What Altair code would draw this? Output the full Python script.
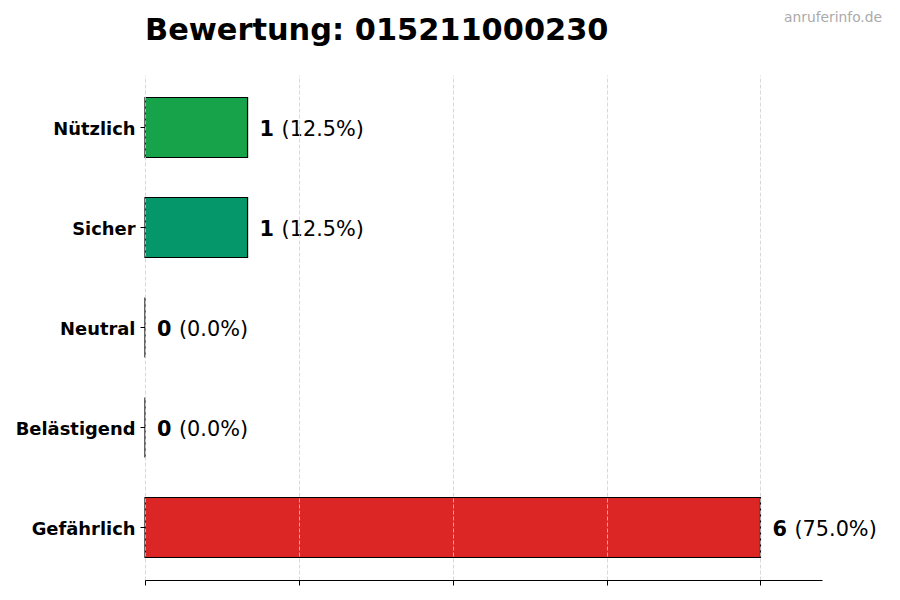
import altair as alt
import pandas as pd

categories = ["Nützlich", "Sicher", "Neutral", "Belästigend", "Gefährlich"]
counts = [1, 1, 0, 0, 6]
percents = ["(12.5%)", "(12.5%)", "(0.0%)", "(0.0%)", "(75.0%)"]
colors = ["#16a34a", "#059669", "#9ca3af", "#f97316", "#dc2626"]
x_ticks = [0, 1.5, 3, 4.5, 6]
title_text = ["Bewertung: 015211000230"]
watermark_text = ["anruferinfo.de"]

df = pd.DataFrame({
    "cat": categories,
    "n": counts,
    "pct": percents,
    "color": colors,
})

FONT = "DejaVu Sans"

x_enc = alt.X("n:Q", scale=alt.Scale(domain=[0, 6.6], nice=False, zero=True),
              axis=alt.Axis(values=x_ticks, labels=False, title=None, grid=True,
                            gridDash=[4, 2], gridColor="#cfcfcf", gridWidth=0.8,
                            domainColor="black", domainWidth=1, tickColor="black",
                            tickSize=5, tickWidth=1, zindex=1))
y_enc = alt.Y("cat:N", sort=categories,
              scale=alt.Scale(paddingInner=0.4, paddingOuter=0.225),
              axis=alt.Axis(title=None, domain=False, tickColor="black", tickSize=5,
                            labelPadding=5, labelFont=FONT, labelFontSize=17.9,
                            labelFontWeight="bold", labelColor="black", grid=False,
                            labelOffset=2))

bars = alt.Chart(df).mark_bar(stroke="black", strokeWidth=1.2).encode(
    x=x_enc,
    y=y_enc,
    color=alt.Color("color:N", scale=None),
)

num = alt.Chart(df).mark_text(align="left", baseline="middle", dx=12, dy=2,
                              font=FONT, fontSize=20.8, fontWeight="bold",
                              color="black").encode(
    x="n:Q", y=alt.Y("cat:N", sort=categories), text="n:Q")

pct = alt.Chart(df).mark_text(align="left", baseline="middle", dx=34, dy=2,
                              font=FONT, fontSize=20.8, color="black").encode(
    x="n:Q", y=alt.Y("cat:N", sort=categories), text="pct:N")

wm = alt.Chart(pd.DataFrame({"t": watermark_text})).mark_text(
    align="right", baseline="alphabetic", font=FONT, fontSize=13.8,
    color="#aaaaaa").encode(x=alt.value(737), y=alt.value(-53), text="t:N")

ttl = alt.Chart(pd.DataFrame({"t": title_text})).mark_text(
    align="left", baseline="alphabetic", font=FONT, fontSize=30.4,
    fontWeight="bold", color="black").encode(
    x=alt.value(0), y=alt.value(-35), text="t:N")

chart = alt.layer(bars, num, pct, wm, ttl).properties(
    width=677, height=505,
    autosize=alt.AutoSizeParams(type="none"),
    padding={"left": 137, "top": 67, "right": 70, "bottom": 12},
).configure_view(stroke=None)

chart.save("out.html", embed_options={"renderer": "svg", "actions": False})
